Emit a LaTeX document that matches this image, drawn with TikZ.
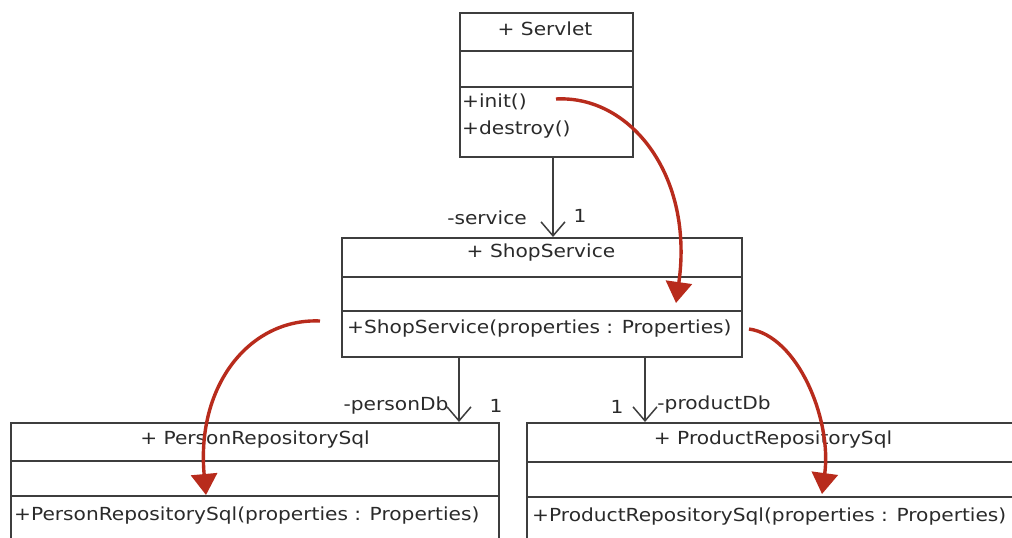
\documentclass[tikz,border=0pt]{standalone}
\usepackage{fontspec}
\setmainfont{DejaVu Sans}[FakeStretch=1.12]
\usetikzlibrary{arrows.meta}
\definecolor{umlline}{HTML}{3E3E3E}
\definecolor{umltext}{HTML}{2A2A2A}
\definecolor{callred}{HTML}{B82B1C}
\tikzset{
  x=1pt, y=-1pt,
  classbox/.style={draw=umlline, line width=1.8pt, anchor=north west, inner sep=0pt},
  sep/.style={draw=umlline, line width=1.8pt},
  title/.style={font=\fontsize{18}{21}\selectfont, text=umltext, inner sep=0pt},
  member/.style={font=\fontsize{18}{21}\selectfont, text=umltext, inner sep=0pt, anchor=west},
  role/.style={font=\fontsize{18}{21}\selectfont, text=umltext, inner sep=0pt},
  assoc/.style={draw=umlline, line width=1.5pt, -{Straight Barb[length=14pt, width=24pt, line width=1.5pt]}},
  call/.style={draw=callred, line width=3.4pt, -{Triangle[length=21pt, width=26pt]}}
}
\begin{document}
\begin{tikzpicture}
\useasboundingbox (0,0) rectangle (1012,538);
\clip (0,0) rectangle (1012,538);
\fill[white] (0,0) rectangle (1012,538);

% Servlet
\node[classbox, minimum width=173pt, minimum height=144pt] (servlet) at (459,12) {};
\draw[sep] (459,51) -- (632,51);
\draw[sep] (459,87) -- (632,87);
\node[title] (servletName) at (545,29) {+ Servlet};
\node[member] (init) at (462,102) {+init()};
\node[member] (destroy) at (462,130) {+destroy()};

% ShopService
\node[classbox, minimum width=400pt, minimum height=119pt] (shop) at (341,237) {};
\draw[sep] (341,277) -- (741,277);
\draw[sep] (341,311) -- (741,311);
\node[title] (shopName) at (541,253) {+ ShopService};
\node[member] (shopCtor) at (347,329) {+ShopService(properties : Properties)};

% PersonRepositorySql
\node[classbox, minimum width=488pt, minimum height=160pt] (person) at (10,422) {};
\draw[sep] (10,461) -- (498,461);
\draw[sep] (10,496) -- (498,496);
\node[title] (personName) at (255,440) {+ PersonRepositorySql};
\node[member] (personCtor) at (14,516) {+PersonRepositorySql(properties : Properties)};

% ProductRepositorySql
\node[classbox, minimum width=520pt, minimum height=160pt] (product) at (526,422) {};
\draw[sep] (526,462) -- (1046,462);
\draw[sep] (526,497) -- (1046,497);
\node[title] (productName) at (773,440) {+ ProductRepositorySql};
\node[member] (productCtor) at (532,517) {+ProductRepositorySql(properties : Properties)};

% associations
\coordinate (svcFrom) at (553,156);
\coordinate (svcTo) at (553,237);
\draw[assoc] (svcFrom) -- (svcTo);
\node[role] (svcRole) at (487,218) {-service};
\node[role] (svcMult) at (580,216) {1};

\coordinate (perFrom) at (459,356);
\coordinate (perTo) at (459,422);
\draw[assoc] (perFrom) -- (perTo);
\node[role] (perRole) at (396,406) {-personDb};
\node[role] (perMult) at (496,406) {1};

\coordinate (proFrom) at (645,356);
\coordinate (proTo) at (645,422);
\draw[assoc] (proFrom) -- (proTo);
\node[role] (proMult) at (617,407) {1};
\node[role] (proRole) at (714,405) {-productDb};

% call flow
\coordinate (c1s) at (556,99);
\coordinate (c1e) at (676,303);
\draw[call] (c1s) .. controls (630,95) and (694,175) .. (c1e);
\coordinate (c2s) at (320,321);
\coordinate (c2e) at (206,495);
\draw[call] (c2s) .. controls (250,318) and (196,385) .. (c2e);
\coordinate (c3s) at (749,329);
\coordinate (c3e) at (822,494);
\draw[call] (c3s) .. controls (798,336) and (832,420) .. (c3e);
\end{tikzpicture}
\end{document}
